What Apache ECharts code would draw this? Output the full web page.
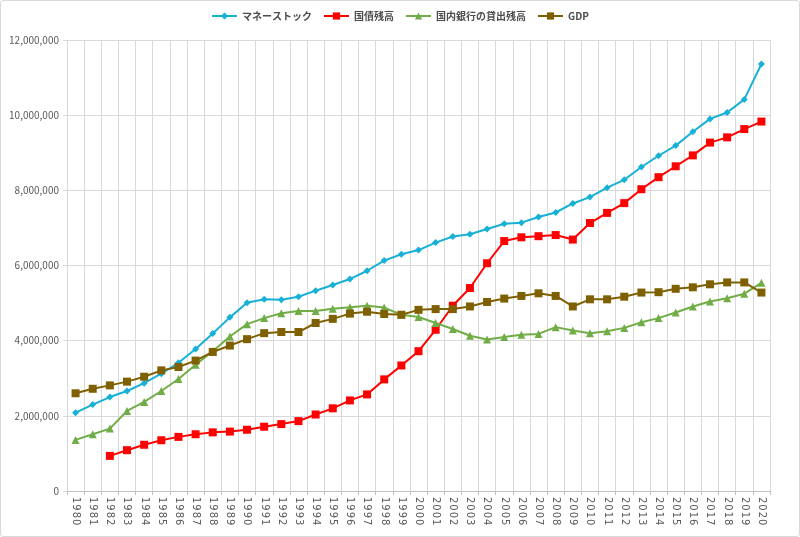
<!DOCTYPE html>
<html><head><meta charset="utf-8">
<script src="https://cdn.jsdelivr.net/npm/echarts@6/dist/echarts.min.js"></script>
<style>html,body{margin:0;padding:0;background:#fff}#c{width:800px;height:537px;box-sizing:border-box;border:1px solid #d9d9d9;border-radius:3px}</style>
</head><body><div id="c"></div>
<script>
const years = [];
for (let y = 1980; y <= 2020; y++) years.push(String(y));
const moneyStock = [2085000,2300000,2500000,2660000,2870000,3120000,3410000,3780000,4190000,4620000,5010000,5100000,5090000,5170000,5330000,5480000,5640000,5860000,6130000,6300000,6410000,6610000,6770000,6830000,6970000,7110000,7140000,7290000,7410000,7650000,7820000,8070000,8280000,8620000,8920000,9190000,9560000,9900000,10070000,10420000,11360000];
const govBonds = [null,null,935000,1086000,1230000,1350000,1440000,1510000,1560000,1580000,1630000,1710000,1780000,1860000,2035000,2200000,2410000,2570000,2970000,3340000,3720000,4290000,4930000,5400000,6060000,6650000,6750000,6780000,6810000,6690000,7130000,7400000,7660000,8030000,8350000,8640000,8930000,9270000,9410000,9630000,9830000];
const bankLoans = [1360000,1510000,1660000,2130000,2370000,2660000,2980000,3360000,3720000,4110000,4440000,4600000,4730000,4790000,4790000,4850000,4890000,4930000,4880000,4690000,4630000,4470000,4310000,4130000,4030000,4100000,4160000,4180000,4360000,4270000,4200000,4250000,4340000,4490000,4600000,4750000,4910000,5040000,5130000,5250000,5540000];
const gdp = [2600000,2720000,2810000,2910000,3040000,3210000,3300000,3470000,3700000,3870000,4040000,4200000,4230000,4230000,4470000,4580000,4720000,4770000,4710000,4690000,4820000,4840000,4840000,4910000,5030000,5120000,5190000,5260000,5190000,4910000,5100000,5100000,5170000,5280000,5290000,5380000,5420000,5500000,5550000,5550000,5280000];
const seriesNames = ['マネーストック','国債残高','国内銀行の貸出残高','GDP'];

const chart = echarts.init(document.getElementById('c'));
const font = '"Noto Sans CJK JP","Noto Sans",sans-serif';
function mk(name, data, color, symbol, size) {
  return {name, type:'line', data, symbol, symbolSize:size, showAllSymbol:true,
    itemStyle:{color}, lineStyle:{color, width:2}, connectNulls:false, z: 3};
}
chart.setOption({
  animation:false,
  textStyle:{fontFamily:font},
  legend:{top:5, left:'center', itemWidth:25, itemHeight:9, itemGap:11,
    textStyle:{fontSize:10, color:'#4d4d4d', fontWeight:'bold', fontFamily:font},
    data:seriesNames},
  grid:{left:66, right:29, top:39, bottom:45},
  xAxis:{type:'category', data:years, boundaryGap:true,
    axisLine:{lineStyle:{color:'#bfbfbf'}},
    axisTick:{show:true, length:4, lineStyle:{color:'#bfbfbf'}},
    axisLabel:{rotate:-90, interval:0, color:'#595959', fontSize:10, margin:6,
      fontFamily:'"DejaVu Sans",sans-serif',
      formatter:v=>v.split('').join('\u200A')},
    splitLine:{show:true, lineStyle:{color:'#d9d9d9'}}},
  yAxis:{type:'value', min:0, max:12000000, interval:2000000,
    axisLine:{show:true, lineStyle:{color:'#d9d9d9'}},
    axisTick:{show:true, length:4, lineStyle:{color:'#d9d9d9'}},
    axisLabel:{color:'#595959', fontSize:10, margin:8,
      formatter:v=>v.toLocaleString('en-US')},
    splitLine:{lineStyle:{color:'#d9d9d9'}}},
  series:[
    mk(seriesNames[0], moneyStock, '#17B0D6', 'diamond', 7),
    mk(seriesNames[1], govBonds, '#FF0000', 'rect', 8),
    mk(seriesNames[2], bankLoans, '#70AD47', 'triangle', 8),
    mk(seriesNames[3], gdp, '#7F6000', 'rect', 8)
  ]
});
</script></body></html>
